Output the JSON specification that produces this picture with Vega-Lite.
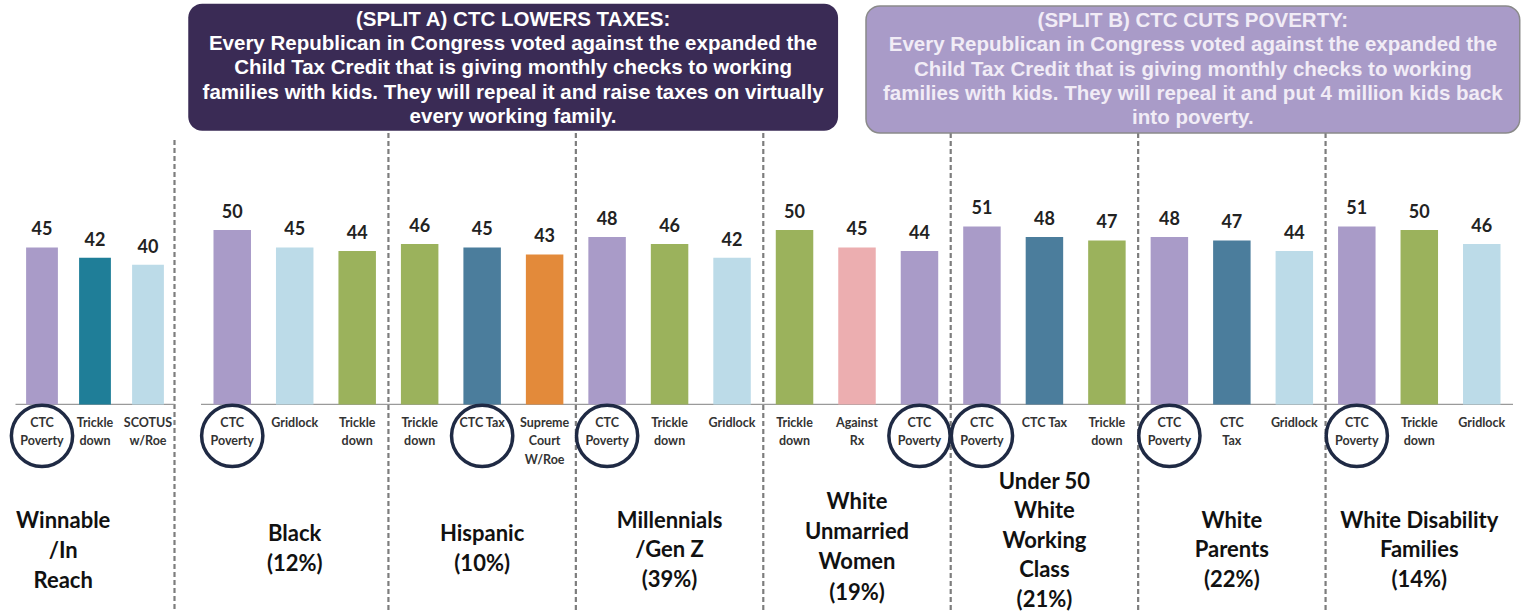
{
  "$schema": "https://vega.github.io/schema/vega-lite/v6.json",
  "padding": 0,
  "background": "white",
  "bounds": "flush",
  "spacing": 11,
  "config": {"view": {"stroke": null}, "axis": {"disable": true}, "legend": {"disable": true}, "text": {"font": "Lato"}},
  "resolve": {"scale": {"x": "independent", "xOffset": "independent", "color": "independent", "y": "shared"}},
  "datasets": {
    "bars": [
      {"group": "Winnable", "message": "CTC Poverty", "label": "CTC\nPoverty", "value": 45, "circled": true},
      {"group": "Winnable", "message": "Trickle down", "label": "Trickle\ndown", "value": 42, "circled": false},
      {"group": "Winnable", "message": "SCOTUS w/Roe", "label": "SCOTUS\nw/Roe", "value": 40, "circled": false},
      {"group": "Black", "message": "CTC Poverty", "label": "CTC\nPoverty", "value": 50, "circled": true},
      {"group": "Black", "message": "Gridlock", "label": "Gridlock", "value": 45, "circled": false},
      {"group": "Black", "message": "Trickle down", "label": "Trickle\ndown", "value": 44, "circled": false},
      {"group": "Hispanic", "message": "Trickle down", "label": "Trickle\ndown", "value": 46, "circled": false},
      {"group": "Hispanic", "message": "CTC Tax", "label": "CTC Tax", "value": 45, "circled": true},
      {"group": "Hispanic", "message": "Supreme Court W/Roe", "label": "Supreme\nCourt\nW/Roe", "value": 43, "circled": false},
      {"group": "Millennials", "message": "CTC Poverty", "label": "CTC\nPoverty", "value": 48, "circled": true},
      {"group": "Millennials", "message": "Trickle down", "label": "Trickle\ndown", "value": 46, "circled": false},
      {"group": "Millennials", "message": "Gridlock", "label": "Gridlock", "value": 42, "circled": false},
      {"group": "White Unmarried", "message": "Trickle down", "label": "Trickle\ndown", "value": 50, "circled": false},
      {"group": "White Unmarried", "message": "Against Rx", "label": "Against\nRx", "value": 45, "circled": false},
      {"group": "White Unmarried", "message": "CTC Poverty", "label": "CTC\nPoverty", "value": 44, "circled": true},
      {"group": "Under 50 WWC", "message": "CTC Poverty", "label": "CTC\nPoverty", "value": 51, "circled": true},
      {"group": "Under 50 WWC", "message": "CTC Tax", "label": "CTC Tax", "value": 48, "circled": false},
      {"group": "Under 50 WWC", "message": "Trickle down", "label": "Trickle\ndown", "value": 47, "circled": false},
      {"group": "White Parents", "message": "CTC Poverty", "label": "CTC\nPoverty", "value": 48, "circled": true},
      {"group": "White Parents", "message": "CTC Tax", "label": "CTC\nTax", "value": 47, "circled": false},
      {"group": "White Parents", "message": "Gridlock", "label": "Gridlock", "value": 44, "circled": false},
      {"group": "White Disability", "message": "CTC Poverty", "label": "CTC\nPoverty", "value": 51, "circled": true},
      {"group": "White Disability", "message": "Trickle down", "label": "Trickle\ndown", "value": 50, "circled": false},
      {"group": "White Disability", "message": "Gridlock", "label": "Gridlock", "value": 46, "circled": false}
    ],
    "titles": [
      {"group": "Winnable", "title": "Winnable\n/In\nReach"},
      {"group": "Black", "title": "Black\n(12%)"},
      {"group": "Hispanic", "title": "Hispanic\n(10%)"},
      {"group": "Millennials", "title": "Millennials\n/Gen Z\n(39%)"},
      {"group": "White Unmarried", "title": "White\nUnmarried\nWomen\n(19%)"},
      {"group": "Under 50 WWC", "title": "Under 50\nWhite\nWorking\nClass\n(21%)"},
      {"group": "White Parents", "title": "White\nParents\n(22%)"},
      {"group": "White Disability", "title": "White Disability\nFamilies\n(14%)"}
    ]
  },
  "hconcat": [
    {
      "width": 190,
      "height": 611,
      "layer": [
        {
          "data": {"name": "titles"},
          "transform": [{"filter": "datum.group === 'Winnable'"}],
          "mark": {"type": "rule", "strokeDash": [5, 3], "strokeWidth": 2.2, "color": "#7d7d7d"},
          "encoding": {
            "x": {"field": "group", "type": "nominal", "bandPosition": 1, "scale": {"domain": ["Winnable"], "paddingInner": 0, "paddingOuter": 0.0975}},
            "y": {"datum": 75.8, "type": "quantitative", "scale": {"domain": [-59.2, 115.9], "nice": false, "zero": false}},
            "y2": {"datum": -59.2}
          }
        },
        {
          "data": {"name": "titles"},
          "transform": [{"filter": "datum.group === 'Winnable'"}],
          "mark": {"type": "rule", "strokeWidth": 1.2, "color": "#9a9a9a"},
          "encoding": {
            "x": {"datum": "Winnable", "bandPosition": 0},
            "x2": {"datum": "Winnable", "bandPosition": 1},
            "y": {"datum": 0, "type": "quantitative"}
          }
        },
        {
          "data": {"name": "bars"},
          "transform": [
            {"filter": "datum.group === 'Winnable'"},
            {"window": [{"op": "row_number", "as": "rank"}], "groupby": ["group"], "sort": [{"field": "value", "order": "descending"}]}
          ],
          "encoding": {
            "x": {"field": "group", "type": "nominal", "scale": {"domain": ["Winnable"], "paddingInner": 0, "paddingOuter": 0.0975}},
            "xOffset": {"field": "rank", "type": "ordinal", "scale": {"paddingInner": 0.4, "paddingOuter": 0.2}}
          },
          "layer": [
            {
              "mark": {"type": "bar"},
              "encoding": {
                "y": {"field": "value", "type": "quantitative", "scale": {"domain": [-59.2, 115.9], "nice": false, "zero": false}},
                "color": {"field": "message", "type": "nominal", "scale": {"domain": ["CTC Poverty", "Trickle down", "SCOTUS w/Roe"], "range": ["#a99bc8", "#1f7e98", "#bcdbe8"]}}
              }
            },
            {
              "mark": {"type": "text", "fontSize": 18, "fontWeight": "bold", "dy": -12, "baseline": "alphabetic", "color": "#222222"},
              "encoding": {"y": {"field": "value", "type": "quantitative"}, "text": {"field": "value"}}
            },
            {
              "mark": {"type": "text", "fontSize": 12.5, "fontWeight": "bold", "baseline": "middle", "lineBreak": "\n", "lineHeight": 18.5, "color": "#333333"},
              "encoding": {"y": {"datum": -5.3}, "text": {"field": "label"}}
            },
            {
              "transform": [{"filter": "datum.circled"}],
              "mark": {"type": "point", "shape": "circle", "size": 3750, "filled": false, "stroke": "#1f2a44", "strokeWidth": 3.5, "opacity": 1},
              "encoding": {"y": {"datum": -9}}
            }
          ]
        },
        {
          "data": {"name": "titles"},
          "transform": [{"filter": "datum.group === 'Winnable'"}],
          "mark": {"type": "text", "fontSize": 22, "fontWeight": "bold", "baseline": "middle", "lineBreak": "\n", "lineHeight": 30, "color": "#111111"},
          "encoding": {
            "x": {"field": "group", "type": "nominal", "bandPosition": 0.3},
            "y": {"datum": -33.4},
            "text": {"field": "title"}
          }
        }
      ]
    },
    {
      "width": 1312,
      "height": 611,
      "layer": [
        {
          "data": {"name": "titles"},
          "transform": [{"filter": "datum.group !== 'Winnable' && datum.group !== 'Black'"}],
          "mark": {"type": "rule", "strokeDash": [5, 3], "strokeWidth": 2.2, "color": "#7d7d7d"},
          "encoding": {
            "x": {"field": "group", "type": "nominal", "bandPosition": 0, "scale": {"domain": ["Black", "Hispanic", "Millennials", "White Unmarried", "Under 50 WWC", "White Parents", "White Disability"], "paddingInner": 0, "paddingOuter": 0}},
            "y": {"datum": 77.8, "type": "quantitative"},
            "y2": {"datum": -59.2}
          }
        },
        {
          "data": {"values": [{"text": "(SPLIT A) CTC LOWERS TAXES:\nEvery Republican in Congress voted against the expanded the\nChild Tax Credit that is giving monthly checks to working\nfamilies with kids. They will repeal it and raise taxes on virtually\nevery working family."}]},
          "layer": [
            {
              "mark": {"type": "rect", "fill": "#3a2b55", "cornerRadius": 14},
              "encoding": {
                "x": {"datum": "Black", "bandPosition": -0.068},
                "x2": {"datum": "White Unmarried", "bandPosition": 0.399},
                "y": {"datum": 114.8, "type": "quantitative"},
                "y2": {"datum": 78.4}
              }
            },
            {
              "mark": {"type": "text", "font": "Liberation Sans", "fontSize": 20.5, "fontWeight": "bold", "baseline": "middle", "lineBreak": "\n", "lineHeight": 24.3, "color": "#ffffff"},
              "encoding": {
                "x": {"datum": "Hispanic", "bandPosition": 0.665},
                "y": {"datum": 110.2, "type": "quantitative"},
                "text": {"field": "text"}
              }
            }
          ]
        },
        {
          "data": {"values": [{"text": "(SPLIT B) CTC CUTS POVERTY:\nEvery Republican in Congress voted against the expanded the\nChild Tax Credit that is giving monthly checks to working\nfamilies with kids. They will repeal it and put 4 million kids back\ninto poverty."}]},
          "layer": [
            {
              "mark": {"type": "rect", "fill": "#a99bc8", "stroke": "#8a8a8a", "strokeWidth": 1.5, "cornerRadius": 14},
              "encoding": {
                "x": {"datum": "White Unmarried", "bandPosition": 0.548},
                "x2": {"datum": "White Disability", "bandPosition": 1.036},
                "y": {"datum": 114.2, "type": "quantitative"},
                "y2": {"datum": 77.8}
              }
            },
            {
              "mark": {"type": "text", "font": "Liberation Sans", "fontSize": 20.5, "fontWeight": "bold", "baseline": "middle", "lineBreak": "\n", "lineHeight": 24.3, "color": "#f1ecf6"},
              "encoding": {
                "x": {"datum": "White Parents", "bandPosition": 0.292},
                "y": {"datum": 109.9, "type": "quantitative"},
                "text": {"field": "text"}
              }
            }
          ]
        },
        {
          "data": {"name": "titles"},
          "transform": [{"filter": "datum.group === 'Black'"}],
          "mark": {"type": "rule", "strokeWidth": 1.2, "color": "#9a9a9a"},
          "encoding": {"y": {"datum": 0, "type": "quantitative"}}
        },
        {
          "data": {"name": "bars"},
          "transform": [
            {"filter": "datum.group !== 'Winnable'"},
            {"window": [{"op": "row_number", "as": "rank"}], "groupby": ["group"], "sort": [{"field": "value", "order": "descending"}]}
          ],
          "encoding": {
            "x": {"field": "group", "type": "nominal", "scale": {"domain": ["Black", "Hispanic", "Millennials", "White Unmarried", "Under 50 WWC", "White Parents", "White Disability"], "paddingInner": 0, "paddingOuter": 0}},
            "xOffset": {"field": "rank", "type": "ordinal", "scale": {"paddingInner": 0.4, "paddingOuter": 0.2}}
          },
          "layer": [
            {
              "mark": {"type": "bar"},
              "encoding": {
                "y": {"field": "value", "type": "quantitative"},
                "color": {"field": "message", "type": "nominal", "scale": {"domain": ["CTC Poverty", "Gridlock", "Trickle down", "CTC Tax", "Supreme Court W/Roe", "Against Rx"], "range": ["#a99bc8", "#bcdbe8", "#9bb25c", "#4b7d9c", "#e38a3a", "#ecaeb0"]}}
              }
            },
            {
              "mark": {"type": "text", "fontSize": 18, "fontWeight": "bold", "dy": -12, "baseline": "alphabetic", "color": "#222222"},
              "encoding": {"y": {"field": "value", "type": "quantitative"}, "text": {"field": "value"}}
            },
            {
              "mark": {"type": "text", "fontSize": 12.5, "fontWeight": "bold", "baseline": "middle", "lineBreak": "\n", "lineHeight": 18.5, "color": "#333333"},
              "encoding": {"y": {"datum": -5.3}, "text": {"field": "label"}}
            },
            {
              "transform": [{"filter": "datum.circled"}],
              "mark": {"type": "point", "shape": "circle", "size": 3750, "filled": false, "stroke": "#1f2a44", "strokeWidth": 3.5, "opacity": 1},
              "encoding": {"y": {"datum": -9}}
            }
          ]
        },
        {
          "data": {"name": "titles"},
          "transform": [{"filter": "datum.group !== 'Winnable'"}],
          "encoding": {
            "x": {"field": "group", "type": "nominal"},
            "text": {"field": "title"}
          },
          "layer": [
            {
              "transform": [{"filter": "length(split(datum.title, '\\n')) === 2"}],
              "mark": {"type": "text", "fontSize": 22, "fontWeight": "bold", "baseline": "middle", "lineBreak": "\n", "lineHeight": 30, "color": "#111111"},
              "encoding": {"y": {"datum": -37.1}}
            },
            {
              "transform": [{"filter": "length(split(datum.title, '\\n')) === 3"}],
              "mark": {"type": "text", "fontSize": 22, "fontWeight": "bold", "baseline": "middle", "lineBreak": "\n", "lineHeight": 29.5, "color": "#111111"},
              "encoding": {"y": {"datum": -33.4}}
            },
            {
              "transform": [{"filter": "length(split(datum.title, '\\n')) === 4"}],
              "mark": {"type": "text", "fontSize": 22, "fontWeight": "bold", "baseline": "middle", "lineBreak": "\n", "lineHeight": 30.3, "color": "#111111"},
              "encoding": {"y": {"datum": -27.9}}
            },
            {
              "transform": [{"filter": "length(split(datum.title, '\\n')) === 5"}],
              "mark": {"type": "text", "fontSize": 22, "fontWeight": "bold", "baseline": "middle", "lineBreak": "\n", "lineHeight": 29.5, "color": "#111111"},
              "encoding": {"y": {"datum": -22.2}}
            }
          ]
        }
      ]
    }
  ]
}
